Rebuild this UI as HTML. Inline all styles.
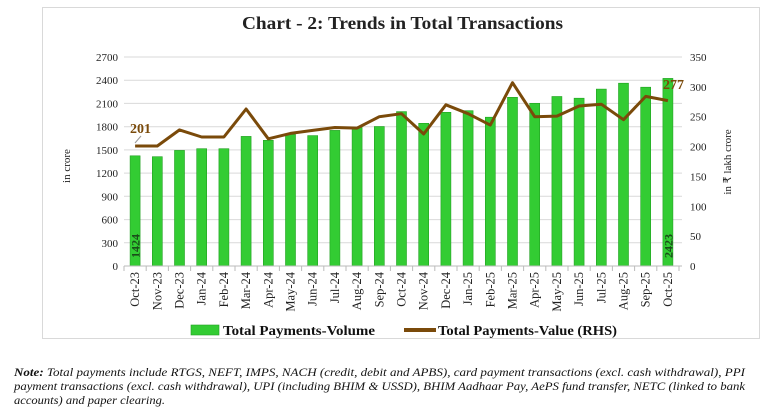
<!DOCTYPE html><html><head><style>body{margin:0;background:#fff}svg text{font-family:"Liberation Serif",serif}</style></head><body>
<svg width="765" height="407" xmlns="http://www.w3.org/2000/svg">
<rect x="42.5" y="7.5" width="717" height="331" fill="#fff" stroke="#d9d9d9"/>
<text x="242" y="29" font-size="18" font-weight="bold" fill="#222" textLength="321" lengthAdjust="spacingAndGlyphs">Chart - 2: Trends in Total Transactions</text>
<g stroke="#d9d9d9">
<line x1="124" x2="682" y1="242.8" y2="242.8"/><line x1="124" x2="682" y1="219.6" y2="219.6"/><line x1="124" x2="682" y1="196.3" y2="196.3"/><line x1="124" x2="682" y1="173.1" y2="173.1"/><line x1="124" x2="682" y1="149.9" y2="149.9"/><line x1="124" x2="682" y1="126.7" y2="126.7"/><line x1="124" x2="682" y1="103.4" y2="103.4"/><line x1="124" x2="682" y1="80.2" y2="80.2"/><line x1="124" x2="682" y1="57" y2="57"/>
</g>
<g font-size="11" text-anchor="end" fill="#222">
<text x="118" y="270">0</text><text x="118" y="246.8">300</text><text x="118" y="223.6">600</text><text x="118" y="200.3">900</text><text x="118" y="177.1">1200</text><text x="118" y="153.9">1500</text><text x="118" y="130.7">1800</text><text x="118" y="107.4">2100</text><text x="118" y="84.2">2400</text><text x="118" y="61">2700</text>
</g>
<g font-size="11" fill="#222">
<text x="690" y="270">0</text><text x="690" y="240.1">50</text><text x="690" y="210.3">100</text><text x="690" y="180.4">150</text><text x="690" y="150.6">200</text><text x="690" y="120.7">250</text><text x="690" y="90.9">300</text><text x="690" y="61">350</text>
</g>
<g fill="#33cc33" stroke="#22a022" stroke-width=".6">
<rect x="130.1" y="155.8" width="10" height="110.2"/><rect x="152.3" y="156.7" width="10" height="109.3"/><rect x="174.5" y="150.4" width="10" height="115.6"/><rect x="196.7" y="148.7" width="10" height="117.3"/><rect x="218.9" y="148.7" width="10" height="117.3"/><rect x="241.1" y="136.4" width="10" height="129.6"/><rect x="263.3" y="140.3" width="10" height="125.7"/><rect x="285.5" y="134.4" width="10" height="131.6"/><rect x="307.7" y="135.6" width="10" height="130.4"/><rect x="329.9" y="130.4" width="10" height="135.6"/><rect x="352.1" y="127.4" width="10" height="138.6"/><rect x="374.3" y="126.5" width="10" height="139.5"/><rect x="396.5" y="111.6" width="10" height="154.4"/><rect x="418.7" y="123.3" width="10" height="142.7"/><rect x="440.9" y="112.3" width="10" height="153.7"/><rect x="463.1" y="110.7" width="10" height="155.3"/><rect x="485.3" y="117.2" width="10" height="148.8"/><rect x="507.5" y="97.3" width="10" height="168.7"/><rect x="529.7" y="103.3" width="10" height="162.7"/><rect x="551.9" y="96.5" width="10" height="169.5"/><rect x="574.1" y="98.2" width="10" height="167.8"/><rect x="596.3" y="89.1" width="10" height="176.9"/><rect x="618.5" y="83.2" width="10" height="182.8"/><rect x="640.7" y="87.2" width="10" height="178.8"/><rect x="662.9" y="78.4" width="10" height="187.6"/>
</g>
<line x1="124" x2="682" y1="266" y2="266" stroke="#bbb"/>
<g stroke="#bbb">
<line x1="124" x2="124" y1="266" y2="271"/><line x1="146.2" x2="146.2" y1="266" y2="271"/><line x1="168.4" x2="168.4" y1="266" y2="271"/><line x1="190.6" x2="190.6" y1="266" y2="271"/><line x1="212.8" x2="212.8" y1="266" y2="271"/><line x1="235" x2="235" y1="266" y2="271"/><line x1="257.2" x2="257.2" y1="266" y2="271"/><line x1="279.4" x2="279.4" y1="266" y2="271"/><line x1="301.6" x2="301.6" y1="266" y2="271"/><line x1="323.8" x2="323.8" y1="266" y2="271"/><line x1="346" x2="346" y1="266" y2="271"/><line x1="368.2" x2="368.2" y1="266" y2="271"/><line x1="390.4" x2="390.4" y1="266" y2="271"/><line x1="412.6" x2="412.6" y1="266" y2="271"/><line x1="434.8" x2="434.8" y1="266" y2="271"/><line x1="457" x2="457" y1="266" y2="271"/><line x1="479.2" x2="479.2" y1="266" y2="271"/><line x1="501.4" x2="501.4" y1="266" y2="271"/><line x1="523.6" x2="523.6" y1="266" y2="271"/><line x1="545.8" x2="545.8" y1="266" y2="271"/><line x1="568" x2="568" y1="266" y2="271"/><line x1="590.2" x2="590.2" y1="266" y2="271"/><line x1="612.4" x2="612.4" y1="266" y2="271"/><line x1="634.6" x2="634.6" y1="266" y2="271"/><line x1="656.8" x2="656.8" y1="266" y2="271"/><line x1="679" x2="679" y1="266" y2="271"/>
</g>
<path d="M135.1,146 L157.3,146 L179.5,129.9 L201.7,137 L223.9,137 L246.1,109 L268.3,138.8 L290.5,133.4 L312.7,130.4 L334.9,127.5 L357.1,128.1 L379.3,116.7 L401.5,113.7 L423.7,134 L445.9,104.8 L468.1,113.7 L490.3,125.1 L512.5,82.7 L534.7,116.7 L556.9,116.1 L579.1,106 L601.3,104.2 L623.5,119.7 L645.7,96.4 L667.9,100.6" fill="none" stroke="#7a4a0a" stroke-width="3" stroke-linejoin="round"/>
<g font-size="12.5" text-anchor="end" fill="#222">
<text transform="translate(139.1,272) rotate(-90)">Oct-23</text><text transform="translate(161.3,272) rotate(-90)">Nov-23</text><text transform="translate(183.5,272) rotate(-90)">Dec-23</text><text transform="translate(205.7,272) rotate(-90)">Jan-24</text><text transform="translate(227.9,272) rotate(-90)">Feb-24</text><text transform="translate(250.1,272) rotate(-90)">Mar-24</text><text transform="translate(272.3,272) rotate(-90)">Apr-24</text><text transform="translate(294.5,272) rotate(-90)">May-24</text><text transform="translate(316.7,272) rotate(-90)">Jun-24</text><text transform="translate(338.9,272) rotate(-90)">Jul-24</text><text transform="translate(361.1,272) rotate(-90)">Aug-24</text><text transform="translate(383.3,272) rotate(-90)">Sep-24</text><text transform="translate(405.5,272) rotate(-90)">Oct-24</text><text transform="translate(427.7,272) rotate(-90)">Nov-24</text><text transform="translate(449.9,272) rotate(-90)">Dec-24</text><text transform="translate(472.1,272) rotate(-90)">Jan-25</text><text transform="translate(494.3,272) rotate(-90)">Feb-25</text><text transform="translate(516.5,272) rotate(-90)">Mar-25</text><text transform="translate(538.7,272) rotate(-90)">Apr-25</text><text transform="translate(560.9,272) rotate(-90)">May-25</text><text transform="translate(583.1,272) rotate(-90)">Jun-25</text><text transform="translate(605.3,272) rotate(-90)">Jul-25</text><text transform="translate(627.5,272) rotate(-90)">Aug-25</text><text transform="translate(649.7,272) rotate(-90)">Sep-25</text><text transform="translate(671.9,272) rotate(-90)">Oct-25</text>
</g>
<text transform="translate(139.5,258) rotate(-90)" font-size="12" font-weight="bold" fill="#1a4d1a">1424</text>
<text transform="translate(672.3,258) rotate(-90)" font-size="12" font-weight="bold" fill="#1a4d1a">2423</text>
<text x="130" y="133" font-size="14" font-weight="bold" fill="#7a4a0a">201</text>
<line x1="135" y1="143" x2="141" y2="136" stroke="#999"/>
<text x="663" y="89" font-size="14" font-weight="bold" fill="#7a4a0a">277</text>
<text transform="translate(70,166) rotate(-90)" font-size="11" text-anchor="middle" fill="#222">in crore</text>
<text transform="translate(731,162) rotate(-90)" font-size="11" text-anchor="middle" fill="#222">in ₹ lakh crore</text>
<rect x="191" y="325" width="28" height="10" fill="#33cc33" stroke="#22a022" stroke-width=".6"/>
<text x="223" y="335" font-size="14" font-weight="bold" fill="#111" textLength="152" lengthAdjust="spacingAndGlyphs">Total Payments-Volume</text>
<line x1="404" x2="436" y1="330" y2="330" stroke="#7a4a0a" stroke-width="4"/>
<text x="438" y="335" font-size="14" font-weight="bold" fill="#111" textLength="179" lengthAdjust="spacingAndGlyphs">Total Payments-Value (RHS)</text>
<g font-size="12" font-style="italic" fill="#111">
<text x="14" y="376" textLength="731" lengthAdjust="spacingAndGlyphs"><tspan font-weight="bold">Note:</tspan> Total payments include RTGS, NEFT, IMPS, NACH (credit, debit and APBS), card payment transactions (excl. cash withdrawal), PPI</text>
<text x="14" y="390" textLength="731" lengthAdjust="spacingAndGlyphs">payment transactions (excl. cash withdrawal), UPI (including BHIM &amp; USSD), BHIM Aadhaar Pay, AePS fund transfer, NETC (linked to bank</text>
<text x="14" y="404" textLength="151" lengthAdjust="spacingAndGlyphs">accounts) and paper clearing.</text>
</g>
</svg></body></html>
